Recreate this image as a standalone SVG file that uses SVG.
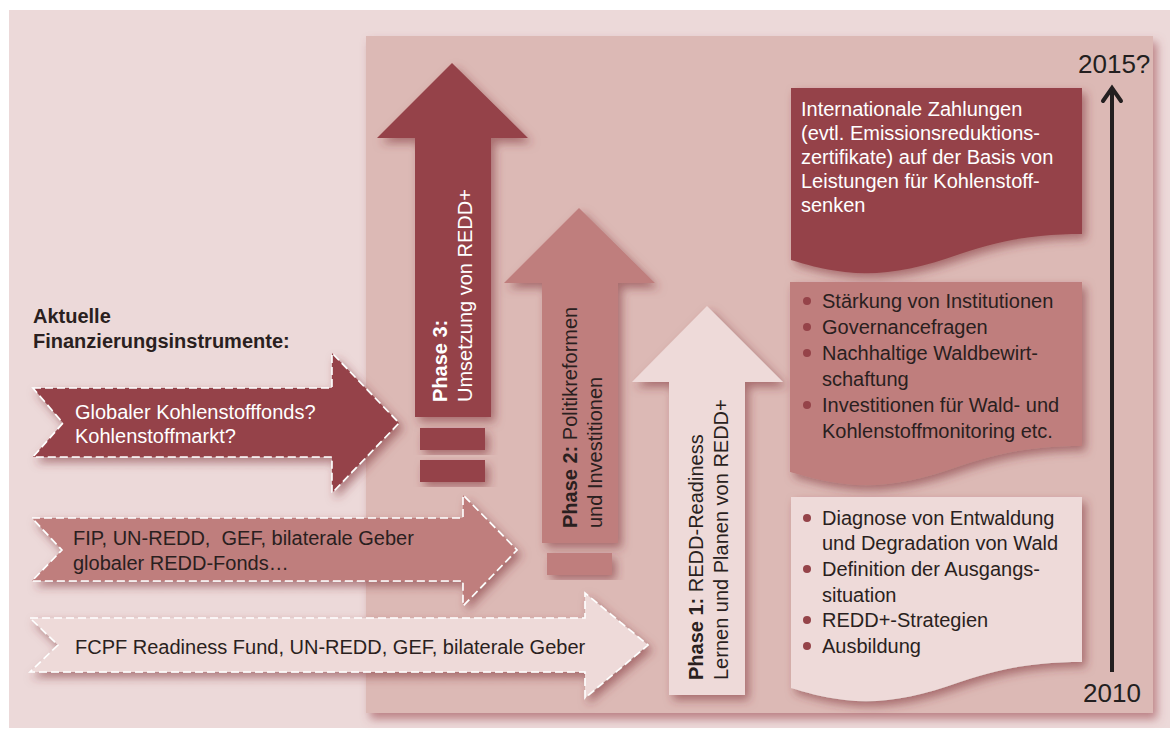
<svg xmlns="http://www.w3.org/2000/svg" width="1170" height="738" viewBox="0 0 1170 738">
  <defs>
    <filter id="shadow" x="-10%" y="-10%" width="130%" height="130%">
      <feDropShadow dx="4" dy="5" stdDeviation="5" flood-color="#7e2d34" flood-opacity="0.55"/>
    </filter>
    <filter id="panelShadow" x="-5%" y="-5%" width="115%" height="115%">
      <feDropShadow dx="4" dy="6" stdDeviation="5" flood-color="#9c4a50" flood-opacity="0.6"/>
    </filter>
  </defs>
  <style>
    text { font-family: "Liberation Sans", Arial, sans-serif; font-size: 20px; }
    .dark { fill: #954349; }
    .mid { fill: #bf7e7d; }
    .light { fill: #eedad9; }
    .dash { stroke: #ffffff; stroke-width: 1.6; stroke-dasharray: 8 4; }
    .shadow { filter: url(#shadow); }
    .tw { fill: #ffffff; }
    .td { fill: #2a1f20; }
    .b { font-weight: bold; }
    .bullet { fill: #954349; }
    .year { font-size: 26px; fill: #231f20; }
  </style>

  <!-- background and timeline panel -->
  <rect x="9" y="10" width="1161" height="718" fill="#ecd9d9"/>
  <rect x="366" y="36" width="787" height="677" fill="#dcb9b5" filter="url(#panelShadow)"/>

  <!-- heading -->
  <g id="heading">
    <text x="33" y="323" class="td b">Aktuelle</text>
    <text x="33" y="348" class="td b">Finanzierungsinstrumente:</text>
  </g>

  <!-- financing instrument arrows -->
  <g id="fund-global">
    <polygon class="dark dash shadow" points="33,388 332,388 332,353 399,423 332,493 332,457 33,457 63,423"/>
    <text x="75" y="419" class="tw">Globaler Kohlenstofffonds?</text>
    <text x="75" y="443" class="tw">Kohlenstoffmarkt?</text>
  </g>
  <g id="fund-fip">
    <polygon class="mid dash shadow" points="32,518 463,518 463,495 517,550 463,606 463,581 32,581 62,550"/>
    <text x="73" y="545" class="td" style="white-space:pre">FIP, UN-REDD,  GEF, bilaterale Geber</text>
    <text x="73" y="570" class="td">globaler REDD-Fonds…</text>
  </g>
  <g id="fund-fcpf">
    <polygon class="light dash shadow" points="30,618 585,618 585,593 648,645 585,698 585,672 30,672 58,645"/>
    <text x="75" y="654" class="td">FCPF Readiness Fund, UN-REDD, GEF, bilaterale Geber</text>
  </g>

  <!-- phase arrows -->
  <g id="phase3">
    <polygon class="dark shadow" points="452,63 528,138 491,138 491,417 415,417 415,138 377,138"/>
    <rect class="dark shadow" x="420" y="428" width="65" height="22"/>
    <rect class="dark shadow" x="420" y="460" width="65" height="22"/>
    <text transform="translate(447,402) rotate(-90)" class="tw b">Phase 3:</text>
    <text transform="translate(472,402) rotate(-90)" class="tw">Umsetzung von REDD+</text>
  </g>
  <g id="phase2">
    <polygon class="mid shadow" points="579,208 655,283 618,283 618,543 542,543 542,283 504,283"/>
    <rect class="mid shadow" x="547" y="553" width="65" height="22"/>
    <text transform="translate(577,528) rotate(-90)" class="td"><tspan class="b">Phase 2:</tspan> Politikreformen</text>
    <text transform="translate(602,528) rotate(-90)" class="td">und Investitionen</text>
  </g>
  <g id="phase1">
    <polygon class="light shadow" points="707,306 783,382 745,382 745,695 669,695 669,382 632,382"/>
    <text transform="translate(703,680) rotate(-90)" class="td"><tspan class="b">Phase 1:</tspan> REDD-Readiness</text>
    <text transform="translate(728,680) rotate(-90)" class="td">Lernen und Planen von REDD+</text>
  </g>

  <!-- outcome boxes -->
  <g id="box-payments">
    <path class="dark shadow" d="M791,88 H1082 V234 C1045,234 1005,238 960,254 C915,270 880,276 845,272 C820,269 805,264 791,260 Z"/>
    <text x="801" y="116" class="tw">Internationale Zahlungen</text>
    <text x="801" y="140" class="tw">(evtl. Emissionsreduktions-</text>
    <text x="801" y="164" class="tw">zertifikate) auf der Basis von</text>
    <text x="801" y="188" class="tw">Leistungen für Kohlenstoff-</text>
    <text x="801" y="212" class="tw">senken</text>
  </g>
  <g id="box-reforms">
    <path class="mid shadow" d="M790,282 H1082 V446 C1045,446 1005,450 960,466 C915,482 880,488 845,484 C820,481 805,476 790,472 Z"/>
    <circle class="bullet" cx="807" cy="301" r="4"/>
    <text x="822" y="308" class="td">Stärkung von Institutionen</text>
    <circle class="bullet" cx="807" cy="327" r="4"/>
    <text x="822" y="334" class="td">Governancefragen</text>
    <circle class="bullet" cx="807" cy="353" r="4"/>
    <text x="822" y="360" class="td">Nachhaltige Waldbewirt-</text>
    <text x="822" y="386" class="td">schaftung</text>
    <circle class="bullet" cx="807" cy="405" r="4"/>
    <text x="822" y="412" class="td">Investitionen für Wald- und</text>
    <text x="822" y="438" class="td">Kohlenstoffmonitoring etc.</text>
  </g>
  <g id="box-readiness">
    <path class="light shadow" d="M791,497 H1082 V662 C1045,662 1005,666 960,682 C915,698 880,704 845,700 C820,697 805,692 791,688 Z"/>
    <circle class="bullet" cx="807" cy="518" r="4"/>
    <text x="822" y="525" class="td">Diagnose von Entwaldung</text>
    <text x="822" y="550" class="td">und Degradation von Wald</text>
    <circle class="bullet" cx="807" cy="569" r="4"/>
    <text x="822" y="576" class="td">Definition der Ausgangs-</text>
    <text x="822" y="602" class="td">situation</text>
    <circle class="bullet" cx="807" cy="620" r="4"/>
    <text x="822" y="627" class="td">REDD+-Strategien</text>
    <circle class="bullet" cx="807" cy="646" r="4"/>
    <text x="822" y="653" class="td">Ausbildung</text>
  </g>

  <!-- time axis -->
  <g id="connectors">
    <line x1="1112" y1="672" x2="1112" y2="88" stroke="#231f20" stroke-width="4"/>
    <polyline points="1103,101 1112,88 1121,101" fill="none" stroke="#231f20" stroke-width="4" stroke-linecap="round"/>
  </g>
  <g id="years">
    <text x="1078" y="73" class="year">2015?</text>
    <text x="1083" y="702" class="year">2010</text>
  </g>
</svg>
